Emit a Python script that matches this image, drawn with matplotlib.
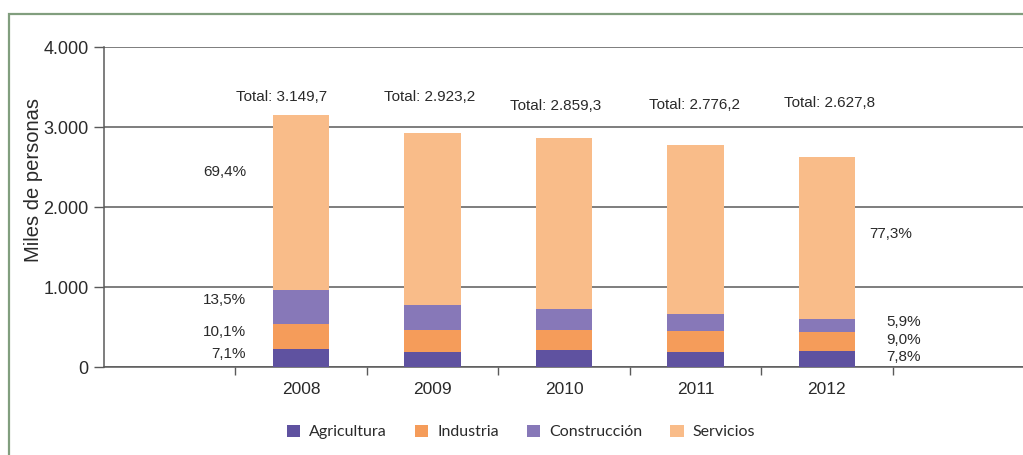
import matplotlib
matplotlib.use('Agg')
import matplotlib.pyplot as plt
from matplotlib.patches import Rectangle
import numpy as np

years = ['2008', '2009', '2010', '2011', '2012']
totales = [3149.7, 2923.2, 2859.3, 2776.2, 2627.8]
# miles de personas por sector
agricultura = [224, 191, 212, 191, 205]
industria = [318, 275, 254, 254, 236]
construccion = [425, 304, 259, 213, 155]
servicios = [t - a - i - c for t, a, i, c in zip(totales, agricultura, industria, construccion)]
# cuotas por sector (Agricultura, Industria, Construcción, Servicios)
pct_2008 = [7.1, 10.1, 13.5, 69.4]
pct_2012 = [7.8, 9.0, 5.9, 77.3]

sectores = ['Agricultura', 'Industria', 'Construcción', 'Servicios']
colores = ['#5f52a0', '#f59c5a', '#8778b8', '#f9bc89']

plt.rcParams['font.family'] = ['Liberation Sans', 'DejaVu Sans']
txt = '#2a2a2a'
grid_c = '#5a5a5a'

fig = plt.figure(figsize=(10.23, 4.55), dpi=100)
ax = fig.add_axes([104 / 1023, 1 - 367 / 455, 920 / 1023, 320 / 455])

x = np.arange(1, len(years) + 1)
w = 0.43
bottom = np.zeros(len(years))
for vals, name, col in zip([agricultura, industria, construccion, servicios], sectores, colores):
    ax.bar(x, vals, w, bottom=bottom, color=col, label=name, zorder=3)
    bottom += np.array(vals)

ax.set_xlim(-0.5, 6.5)
ax.set_ylim(0, 4000)
ax.set_yticks([0, 1000, 2000, 3000, 4000])
ax.set_yticklabels(['0', '1.000', '2.000', '3.000', '4.000'], fontsize=13, color=txt)
ax.yaxis.grid(True, color=grid_c, linewidth=1.1, zorder=0)
ax.tick_params(axis='y', length=7, color=grid_c, width=1, pad=4)

# marcas del eje x entre categorías, etiquetas centradas en cada barra
ax.set_xticks(np.arange(0.5, 6, 1.0))
ax.set_xticklabels([])
ax.set_xticks(x, minor=True)
ax.set_xticklabels(years, minor=True, fontsize=12.5, color=txt)
ax.tick_params(axis='x', which='major', length=6, color=grid_c, width=1)
ax.tick_params(axis='x', which='minor', length=0, pad=11)

for s in ['top', 'right']:
    ax.spines[s].set_visible(False)
for s in ['left', 'bottom']:
    ax.spines[s].set_color(grid_c)
    ax.spines[s].set_linewidth(1.1)

ax.set_ylabel('Miles de personas', fontsize=14.5, color=txt)
ax.yaxis.set_label_coords(-0.066, 0.584)

# totales sobre las barras
total_dx = [-0.15, -0.02, -0.06, -0.01, 0.02]
total_y = [3375, 3375, 3262, 3275, 3300]
for xi, t, dx, ty in zip(x, totales, total_dx, total_y):
    s = f'{t:,.1f}'.replace(',', 'X').replace('.', ',').replace('X', '.')
    ax.text(xi + dx, ty, f'Total: {s}', ha='center', va='center', fontsize=11, color=txt)

def fmt_pct(p):
    return f'{p:.1f}%'.replace('.', ',')

# cuotas de 2008 a la izquierda
y08 = [162, 437, 837, 2437]
for p, yy in zip(pct_2008, y08):
    ax.text(0.58, yy, fmt_pct(p), ha='right', va='center', fontsize=11, color=txt)

# cuotas de 2012 a la derecha
y12 = [125, 337, 562, 1662]
x12 = [5.45, 5.45, 5.45, 5.32]
for p, yy, xx in zip(pct_2012, y12, x12):
    ax.text(xx, yy, fmt_pct(p), ha='left', va='center', fontsize=11, color=txt)

leg = fig.legend(loc='center', bbox_to_anchor=(521 / 1023, 1 - 432 / 455), ncol=4,
                 frameon=False, handlelength=0.85, handleheight=0.85, handletextpad=0.55,
                 columnspacing=1.75, prop={'family': 'Lato', 'size': 11.5})
for t in leg.get_texts():
    t.set_color(txt)

# marco verde del recuadro
fig.patches.append(Rectangle((9 / 1023, -0.1), 1.2, 1 - 14 / 455 + 0.1,
                             transform=fig.transFigure, fill=False,
                             edgecolor='#819e7e', linewidth=1.6, zorder=0))

fig.savefig('out.png', dpi=100)
